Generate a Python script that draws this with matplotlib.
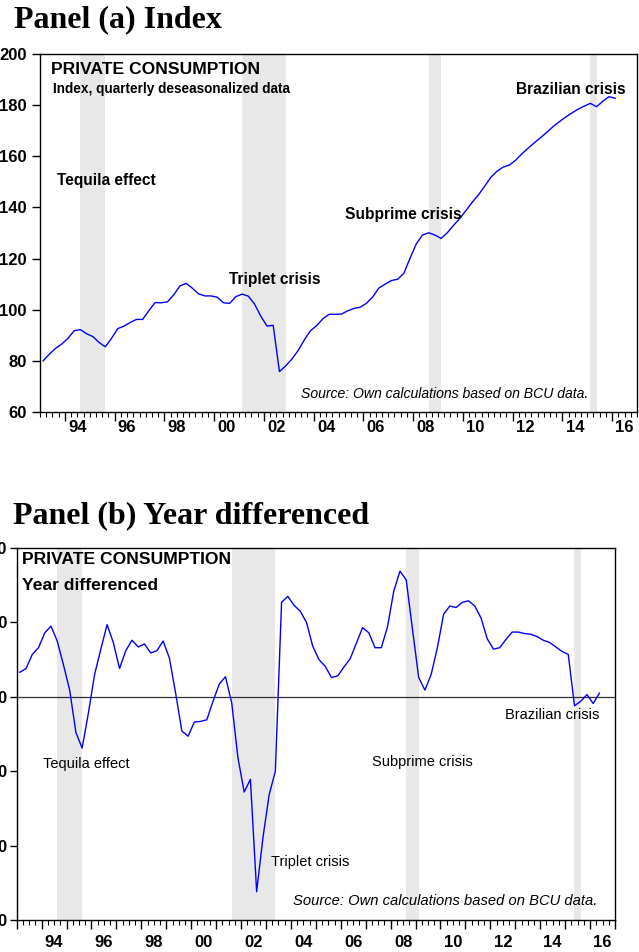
import numpy as np
import matplotlib
matplotlib.use("Agg")
import matplotlib.pyplot as plt

plt.rcParams["font.family"] = ["Liberation Sans", "DejaVu Sans"]

# quarterly data, 1993Q1 onwards
index_vals = [
    80.0, 82.6, 84.9, 86.6, 88.8, 91.8, 92.2, 90.6, 89.5, 87.2,
    85.5, 88.8, 92.6, 93.6, 95.0, 96.2, 96.2, 99.6, 102.8, 102.7,
    103.1, 105.8, 109.3, 110.3, 108.4, 106.2, 105.4, 105.4, 104.9, 102.7,
    102.5, 105.1, 106.1, 105.3, 102.2, 97.5, 93.6, 93.9, 75.8, 78.0,
    80.7, 84.0, 88.2, 91.8, 93.8, 96.5, 98.2, 98.2, 98.3, 99.6,
    100.5, 101.0, 102.5, 105.0, 108.5, 110.0, 111.4, 111.9, 114.2, 120.1,
    125.7, 129.2, 130.1, 129.2, 127.9, 130.1, 133.0, 135.7, 138.8, 142.0,
    144.9, 148.3, 151.8, 154.2, 155.8, 156.6, 158.5, 161.0, 163.2, 165.3,
    167.3, 169.4, 171.6, 173.5, 175.3, 176.9, 178.4, 179.6, 180.7, 179.4,
    181.5, 183.3, 182.7,
]
diff_vals = [
    3.3, 3.8, 5.7, 6.6, 8.6, 9.5, 7.5, 4.3, 0.9, -4.8,
    -6.9, -2.2, 3.0, 6.4, 9.7, 7.3, 3.8, 6.2, 7.6, 6.7,
    7.1, 5.9, 6.2, 7.5, 5.2, 0.5, -4.6, -5.3, -3.4, -3.3,
    -3.1, -0.6, 1.7, 2.7, -0.8, -8.2, -12.8, -11.1, -26.2, -19.0,
    -13.2, -10.0, 12.7, 13.5, 12.3, 11.5, 10.0, 6.8, 5.0, 4.1,
    2.6, 2.8, 4.0, 5.1, 7.2, 9.3, 8.6, 6.6, 6.6, 9.4,
    14.2, 16.9, 15.7, 9.1, 2.6, 0.9, 3.0, 6.6, 11.1, 12.2,
    12.0, 12.7, 12.9, 12.2, 10.6, 7.8, 6.4, 6.6, 7.7, 8.7,
    8.7, 8.5, 8.4, 8.1, 7.6, 7.3, 6.7, 6.1, 5.7, -1.2,
    -0.6, 0.3, -0.9, 0.5,
]
# crisis shading (decimal years)
shades_a = [(1994.625, 1995.625), (2001.125, 2002.875), (2008.625, 2009.125), (2015.125, 2015.375)]
shades_b = [(1994.625, 1995.625), (2001.625, 2003.375), (2008.625, 2009.125), (2015.375, 2015.625)]

year_labels = ["94", "96", "98", "00", "02", "04", "06", "08", "10", "12", "14", "16"]
label_years = np.arange(1994, 2017, 2)

W, H = 639, 952
fig = plt.figure(figsize=(W / 100, H / 100), dpi=100)


def ax_at(l, r, t, b):
    return fig.add_axes([l / W, 1 - b / H, (r - l) / W, (b - t) / H])


def quarters(n):
    return 1993 + 0.125 + 0.25 * np.arange(n)


def style_axes(ax, major, xpad, ylen, ypad):
    ax.set_xlim(1993, 2017)
    ax.set_xticks(major)
    ax.set_xticklabels([])
    ax.set_xticks(np.arange(1993, 2017.01, 0.25), minor=True)
    ax.tick_params(axis="x", which="major", length=6.2, width=1, direction="out")
    ax.tick_params(axis="x", which="minor", length=3.6, width=0.8, direction="out")
    # year labels sit in the middle of the year
    sec = ax.secondary_xaxis("bottom")
    sec.set_xticks(label_years + 0.5, year_labels, fontweight="bold", fontsize=12)
    sec.tick_params(length=0, pad=xpad)
    sec.spines["bottom"].set_visible(False)
    for s in ax.spines.values():
        s.set_linewidth(1.0)
    ax.tick_params(axis="y", length=ylen, width=1, labelsize=12, pad=ypad)
    for lab in ax.get_yticklabels():
        lab.set_fontweight("bold")


# ---- panel (a)
fig.text(14 / W, 1 - 27 / H, "Panel (a) Index", family="Liberation Serif",
         fontweight="bold", fontsize=23, va="baseline")
ax = ax_at(40, 637, 54, 412)
for a, b in shades_a:
    ax.axvspan(a, b, color="#e8e8e8", lw=0)
ax.plot(quarters(len(index_vals)), index_vals, color="#0000ff", lw=1.0)
ax.set_ylim(60, 200)
ax.set_yticks(np.arange(60, 201, 20))
style_axes(ax, np.arange(1994, 2017, 2), xpad=5.6, ylen=5.8, ypad=3.6)
ax.text(0.018, 0.958, "PRIVATE CONSUMPTION", transform=ax.transAxes,
        fontweight="bold", fontsize=12.6, va="center")
ax.text(0.022, 0.902, "Index, quarterly deseasonalized data", transform=ax.transAxes,
        fontweight="bold", fontsize=9.8, va="center")
for txt, x, y in [("Tequila effect", 1993.68, 150.7), ("Triplet crisis", 2000.59, 112.0),
                  ("Subprime crisis", 2005.28, 137.4), ("Brazilian crisis", 2012.14, 186.3)]:
    ax.text(x, y, txt, fontweight="bold", fontsize=11.2, va="center")
ax.text(2015.04, 67.0, "Source: Own calculations based on BCU data.", style="italic",
        fontsize=10.1, ha="right", va="center")

# ---- panel (b)
fig.text(13 / W, 1 - 523 / H, "Panel (b) Year differenced", family="Liberation Serif",
         fontweight="bold", fontsize=23, va="baseline")
bx = ax_at(16.7, 615, 548, 920)
for a, b in shades_b:
    bx.axvspan(a, b, color="#e8e8e8", lw=0)
bx.axhline(0, color="#303030", lw=0.9)
bx.plot(quarters(len(diff_vals)), diff_vals, color="#0000ff", lw=1.0)
bx.set_ylim(-30, 20)
bx.set_yticks(np.arange(-30, 21, 10))
style_axes(bx, np.arange(1993, 2018, 1), xpad=10.5, ylen=4.8, ypad=2.2)
bx.text(0.009, 0.968, "PRIVATE CONSUMPTION", transform=bx.transAxes,
        fontweight="bold", fontsize=12.6, va="center")
bx.text(0.009, 0.898, "Year differenced", transform=bx.transAxes,
        fontweight="bold", fontsize=12.6, va="center")
for txt, x, y in [("Tequila effect", 1994.05, -9.0), ("Triplet crisis", 2003.2, -22.2),
                  ("Subprime crisis", 2007.24, -8.8), ("Brazilian crisis", 2012.58, -2.5)]:
    bx.text(x, y, txt, fontsize=10.5, va="center")
bx.text(2016.28, -27.5, "Source: Own calculations based on BCU data.", style="italic",
        fontsize=10.6, ha="right", va="center")

fig.savefig("out.png", dpi=100)
